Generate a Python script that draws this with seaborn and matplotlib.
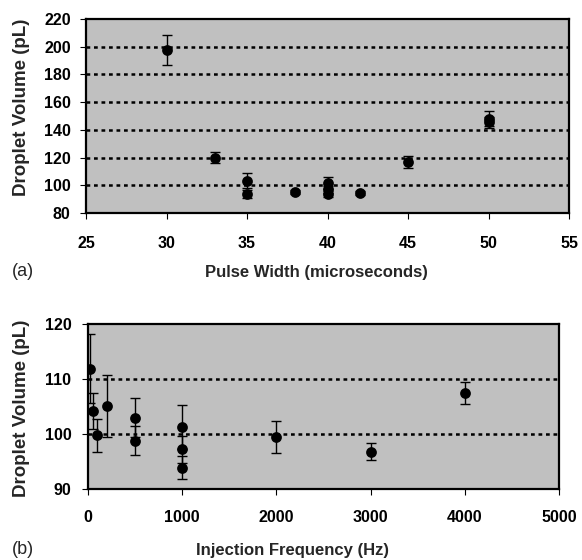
import matplotlib
matplotlib.use("Agg")
import matplotlib.pyplot as plt
import seaborn as sns
import pandas as pd
import numpy as np

# ---- data: panel (a) ----
pulse_width = [30, 33, 35, 35, 38, 40, 40, 40, 42, 45, 50, 50]
volume_a = [197.5, 120, 103.3, 93.8, 95.3, 101.5, 97, 93.8, 94.3, 116.8, 148, 145.5]
err_a = [10.8, 3.8, 5.5, 3.0, 1.5, 4.3, 2.5, 2.0, 1.5, 4.0, 5.5, 4.0]

# ---- data: panel (b) ----
frequency = [25, 50, 100, 200, 500, 500, 1000, 1000, 1000, 2000, 3000, 4000]
volume_b = [111.9, 104.2, 99.8, 105.1, 103.0, 98.8, 101.3, 97.2, 93.9, 99.4, 96.8, 107.5]
err_b = [6.2, 3.3, 3.0, 5.6, 3.5, 2.7, 4.0, 2.4, 2.1, 2.9, 1.6, 2.0]

yticks_a = [80, 100, 120, 140, 160, 180, 200, 220]
xticks_a = [25, 30, 35, 40, 45, 50, 55]
yticks_b = [90, 100, 110, 120]
xticks_b = [0, 1000, 2000, 3000, 4000, 5000]

sns.set_theme(style="white")
plt.rcParams['font.family'] = ['Liberation Sans', 'DejaVu Sans']

W, H = 582, 560
fig = plt.figure(figsize=(W / 100, H / 100), dpi=100)

def box(l, t, r, b):
    return [l / W, 1 - b / H, (r - l) / W, (b - t) / H]

ax1 = fig.add_axes(box(86, 19, 569, 213))
ax2 = fig.add_axes(box(88, 324, 559, 489))

def style(ax, x, y, e, xt, yt, xpad, ypad):
    ax.set_facecolor("#c0c0c0")
    for yy in yt[1:-1]:
        ax.axhline(yy, color="black", lw=1.8, ls=(0, (1.5, 1.5)), zorder=1)
    ax.errorbar(x, y, yerr=e, fmt="none", ecolor="black", elinewidth=1.0,
                capsize=3.5, capthick=1.0, zorder=2)
    sns.scatterplot(x=x, y=y, ax=ax, color="black", s=60, edgecolor="black",
                    linewidth=0, zorder=3, legend=False)
    ax.set_xlim(xt[0], xt[-1])
    ax.set_ylim(yt[0], yt[-1])
    ax.set_xticks(xt)
    ax.set_yticks(yt)
    ax.set_xticklabels([str(v) for v in xt], fontweight="bold", fontsize=11.5)
    ax.set_yticklabels([str(v) for v in yt], fontweight="bold", fontsize=11.5)
    ax.tick_params(axis="x", direction="out", length=4, width=0.8, pad=xpad, colors="black")
    ax.tick_params(axis="y", direction="out", length=4, width=0.8, pad=ypad, colors="black")
    ax.tick_params(axis="both", which="both", bottom=True, left=True)
    for s in ax.spines.values():
        s.set_color("black")
        s.set_linewidth(1.6)
    ax.set_xlabel("")
    ax.set_ylabel("")

style(ax1, pulse_width, volume_a, err_a, xticks_a, yticks_a, 12.5, 7)
style(ax2, frequency, volume_b, err_b, xticks_b, yticks_b, 11, 8)

ylab = dict(fontweight="bold", fontsize=13.5, ha="center", va="center", rotation=90)
xlab = dict(fontweight="bold", fontsize=12, ha="center", va="center")
fig.text(22 / W, 1 - 107 / H, "Droplet Volume (pL)", **ylab)
fig.text(22 / W, 1 - 408 / H, "Droplet Volume (pL)", **ylab)
fig.text(316 / W, 1 - 272 / H, "Pulse Width (microseconds)", **xlab)
fig.text(293 / W, 1 - 551 / H, "Injection Frequency (Hz)", **xlab)
fig.text(12 / W, 1 - 272 / H, "(a)", fontsize=13, ha="left", va="center")
fig.text(12 / W, 1 - 549 / H, "(b)", fontsize=13, ha="left", va="center")

fig.savefig("out.png", dpi=100, facecolor="white")
